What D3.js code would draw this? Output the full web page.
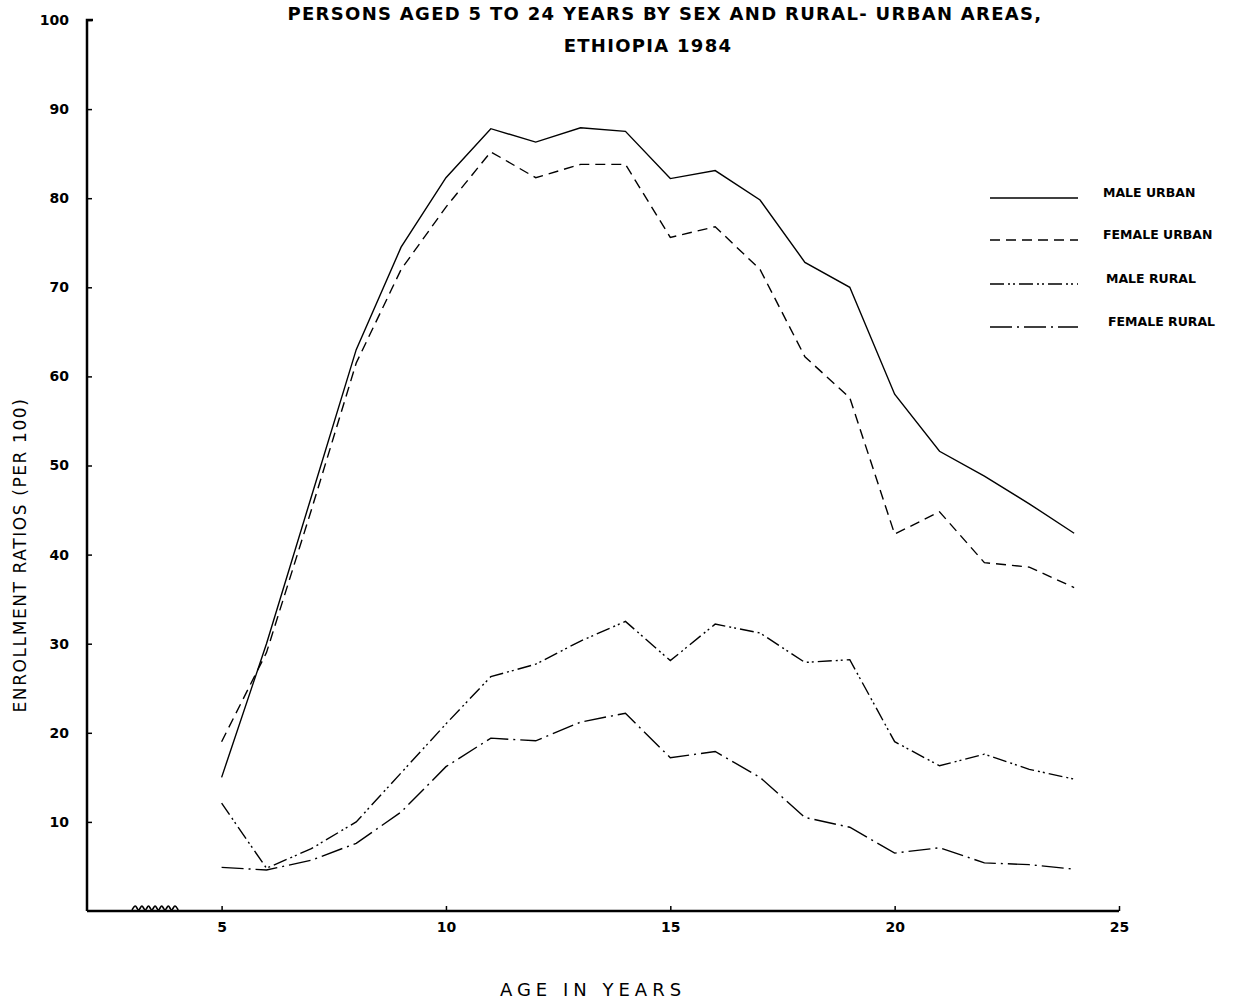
<!DOCTYPE html>
<html>
<head>
<meta charset="utf-8">
<script src="https://cdn.jsdelivr.net/npm/d3@7"></script>
<style>
  body { margin: 0; background: #fff; }
  svg text { font-family: "DejaVu Sans", sans-serif; fill: #000; }
</style>
</head>
<body>
<div id="chart"></div>
<script>
// ages on the x axis
var ages = [5, 6, 7, 8, 9, 10, 11, 12, 13, 14, 15, 16, 17, 18, 19, 20, 21, 22, 23, 24];
var maleUrban = [15, 30, 46.5, 63, 74.5, 82.3, 87.8, 86.3, 87.9, 87.5, 82.2, 83.1, 79.8, 72.8, 70, 58, 51.6, 48.8, 45.7, 42.4];
var femaleUrban = [19, 29, 45, 61.5, 72, 79, 85.2, 82.3, 83.8, 83.8, 75.6, 76.8, 72, 62.2, 57.6, 42.3, 44.8, 39.1, 38.6, 36.3];
var maleRural = [12.1, 4.8, 7, 10, 15.5, 21, 26.3, 27.7, 30.3, 32.5, 28.1, 32.2, 31.2, 27.9, 28.2, 19, 16.3, 17.6, 15.9, 14.8];
var femaleRural = [4.9, 4.6, 5.7, 7.6, 11.1, 16.2, 19.4, 19.1, 21.2, 22.2, 17.2, 17.9, 15, 10.5, 9.4, 6.5, 7.1, 5.4, 5.2, 4.7];
var seriesNames = ["MALE URBAN", "FEMALE URBAN", "MALE RURAL", "FEMALE RURAL"];
var yTicks = [10, 20, 30, 40, 50, 60, 70, 80, 90, 100];
var xTicks = [5, 10, 15, 20, 25];

var width = 1245, height = 1001;
var dashes = [null, "10,6", "14,4,2,3,2,4", "22,5,2,5"];

var svg = d3.select("#chart").append("svg")
    .attr("width", width)
    .attr("height", height);

var x = d3.scaleLinear().domain([2, 25]).range([87, 1119]);
var y = d3.scaleLinear().domain([0, 100]).range([911, 20]);

// title
svg.append("text")
    .attr("x", 665).attr("y", 20)
    .attr("text-anchor", "middle")
    .style("font-size", "18px").style("font-weight", "bold").style("letter-spacing", "1.3px")
    .text("PERSONS AGED 5 TO 24 YEARS BY SEX  AND RURAL- URBAN AREAS,");
svg.append("text")
    .attr("x", 648).attr("y", 52)
    .attr("text-anchor", "middle")
    .style("font-size", "18px").style("font-weight", "bold").style("letter-spacing", "1.3px")
    .text("ETHIOPIA 1984");

// axes
var yAxis = d3.axisLeft(y).tickValues(yTicks).tickSize(-5).tickPadding(18)
    .tickFormat(d3.format("d"));
var gy = svg.append("g").attr("transform", "translate(" + x(2) + ",0)").call(yAxis);
gy.select(".domain").attr("stroke-width", 2.5).attr("d", "M0," + y(0) + "V" + y(100) + "h6");
gy.selectAll(".tick line").attr("stroke-width", 1.5);
gy.selectAll("text").style("font-size", "14px").style("font-weight", "bold").style("font-family", "DejaVu Sans");

var xAxis = d3.axisBottom(x).tickValues(xTicks).tickSize(-5).tickPadding(11);
var gx = svg.append("g").attr("transform", "translate(0," + y(0) + ")").call(xAxis);
gx.select(".domain").attr("stroke-width", 2.5).attr("d", "M" + x(2) + ",0H" + x(25));
gx.selectAll(".tick line").attr("stroke-width", 1.5);
gx.selectAll("text").style("font-size", "14px").style("font-weight", "bold").style("font-family", "DejaVu Sans");

// axis break zigzag
var zz = [];
for (var i = 0; i <= 14; i++) {
    zz.push([132 + i * 3.3, y(0) - 1 - (i % 2 ? 4 : 0)]);
}
svg.append("path")
    .attr("d", d3.line().curve(d3.curveMonotoneX)(zz))
    .attr("fill", "none").attr("stroke", "#000").attr("stroke-width", 1.6);

// axis titles
svg.append("text")
    .attr("transform", "translate(26,555) rotate(-90)")
    .attr("text-anchor", "middle")
    .style("font-size", "17px").style("letter-spacing", "1.6px")
    .text("ENROLLMENT  RATIOS  (PER 100)");
svg.append("text")
    .attr("x", 593).attr("y", 996)
    .attr("text-anchor", "middle")
    .style("font-size", "18px").style("letter-spacing", "5px")
    .text("AGE  IN  YEARS");

// lines
var allSeries = [maleUrban, femaleUrban, maleRural, femaleRural];
var line = d3.line()
    .x(function (d, i) { return x(ages[i]); })
    .y(function (d) { return y(d); });

svg.selectAll(".series")
    .data(allSeries)
    .enter().append("path")
    .attr("class", "series")
    .attr("d", function (d) { return line(d); })
    .attr("fill", "none")
    .attr("stroke", "#000")
    .attr("stroke-width", 1.4)
    .attr("stroke-dasharray", function (d, i) { return dashes[i]; });

// legend
var legendY = [198, 240, 284, 327];
var legendTextX = [1103, 1103, 1106, 1108];
var legend = svg.selectAll(".legend")
    .data(seriesNames)
    .enter().append("g")
    .attr("class", "legend");
legend.append("line")
    .attr("x1", 990).attr("x2", 1078)
    .attr("y1", function (d, i) { return legendY[i]; })
    .attr("y2", function (d, i) { return legendY[i]; })
    .attr("stroke", "#000").attr("stroke-width", 1.6)
    .attr("stroke-dasharray", function (d, i) { return dashes[i]; });
legend.append("text")
    .attr("x", function (d, i) { return legendTextX[i]; })
    .attr("y", function (d, i) { return legendY[i] - 1; })
    .style("font-size", "12.5px").style("font-weight", "bold")
    .text(function (d) { return d; });
</script>
</body>
</html>
